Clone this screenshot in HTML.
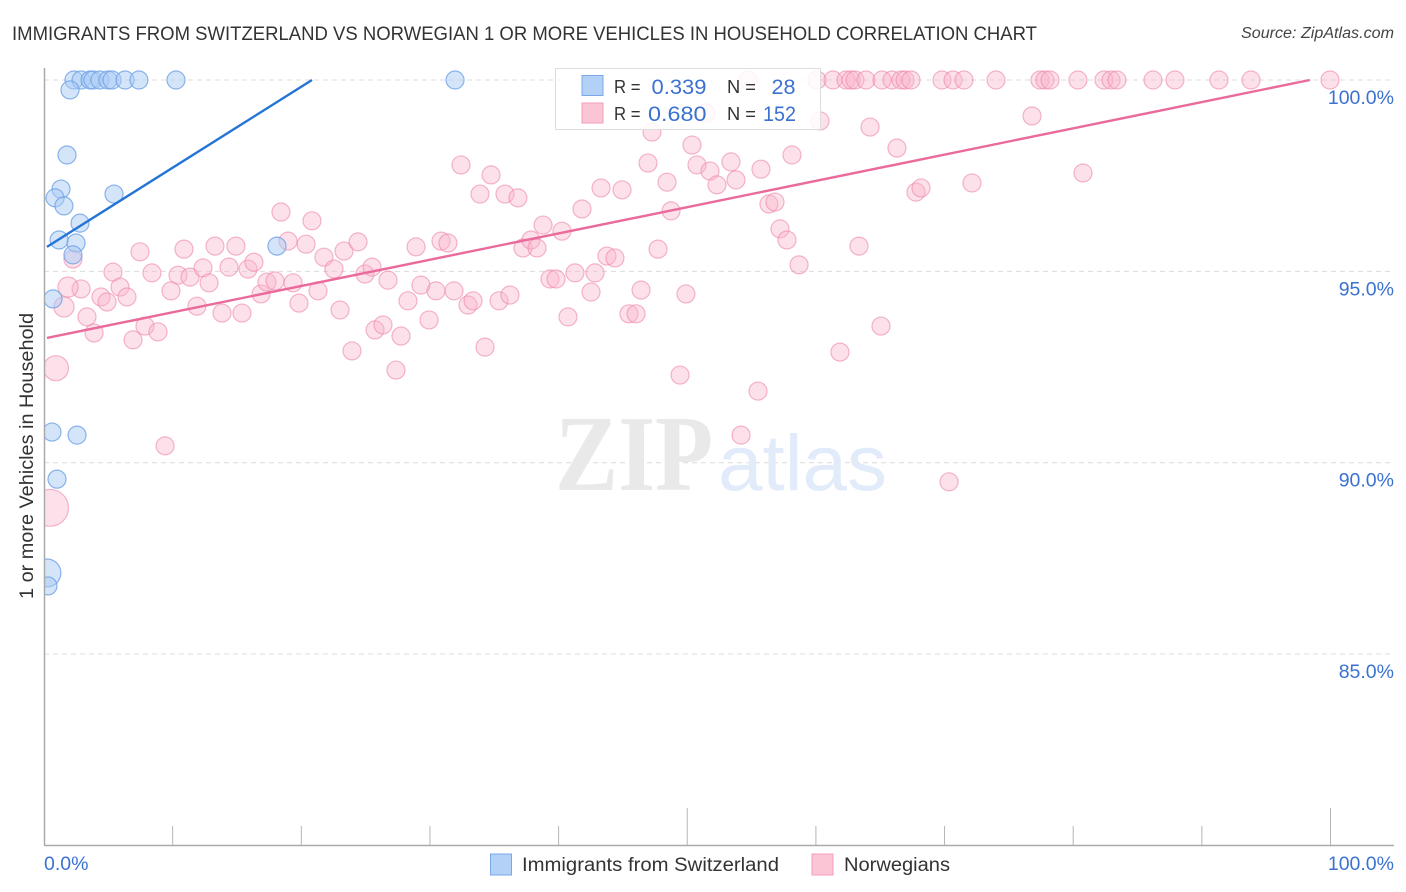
<!DOCTYPE html>
<html lang="en">
<head>
<meta charset="utf-8">
<title>Immigrants from Switzerland vs Norwegian 1 or more Vehicles in Household Correlation Chart</title>
<style>
html,body{margin:0;padding:0;background:#fff;}
svg{display:block;font-family:"Liberation Sans",sans-serif;}
</style>
</head>
<body>
<svg id="chart" xmlns="http://www.w3.org/2000/svg" width="1406" height="892" viewBox="0 0 1406 892">
  <rect x="0" y="0" width="1406" height="892" fill="#ffffff"/>
  <text x="12" y="40" font-size="19.5" fill="#333333" textLength="1025" lengthAdjust="spacingAndGlyphs">IMMIGRANTS FROM SWITZERLAND VS NORWEGIAN 1 OR MORE VEHICLES IN HOUSEHOLD CORRELATION CHART</text>
  <text x="1241" y="38" font-size="15.5" font-style="italic" fill="#444444" textLength="153" lengthAdjust="spacingAndGlyphs">Source: ZipAtlas.com</text>

  <g id="grid"></g>

  <g>
    <text x="555" y="490" font-family="'Liberation Serif',serif" font-weight="bold" font-size="108" fill="#e9e9e9" textLength="158" lengthAdjust="spacingAndGlyphs">ZIP</text>
    <text x="718" y="490" font-size="79" fill="#e1ebfa" textLength="169" lengthAdjust="spacingAndGlyphs">atlas</text>
  </g>

  <g id="points"></g>
  <rect x="0" y="60" width="44" height="790" fill="#ffffff"/>
  <g id="trends"></g>
  <g id="axes"></g>

  <text x="0" y="0" transform="translate(33,456) rotate(-90)" font-size="19" fill="#333333" text-anchor="middle" textLength="286" lengthAdjust="spacingAndGlyphs">1 or more Vehicles in Household</text>

  <g>
    <rect x="555.5" y="68.5" width="265" height="61" fill="#ffffff" fill-opacity="0.85" stroke="#dddddd" stroke-width="1"/>
    <rect x="582" y="75.5" width="21" height="20" fill="#b3d1f7" stroke="#7aa8e8" stroke-width="1"/>
    <rect x="582" y="103" width="21" height="20" fill="#fcc5d6" stroke="#f2a0ba" stroke-width="1"/>
    <text x="614" y="93" font-size="18.5" fill="#333333" textLength="26.5" lengthAdjust="spacingAndGlyphs">R =</text>
    <text x="651.5" y="94" font-size="21.5" fill="#3b71d1" textLength="55" lengthAdjust="spacingAndGlyphs">0.339</text>
    <text x="727" y="93" font-size="18.5" fill="#333333" textLength="29" lengthAdjust="spacingAndGlyphs">N =</text>
    <text x="771.5" y="94" font-size="21.5" fill="#3b71d1" textLength="24" lengthAdjust="spacingAndGlyphs">28</text>
    <text x="614" y="120" font-size="18.5" fill="#333333" textLength="26.5" lengthAdjust="spacingAndGlyphs">R =</text>
    <text x="648" y="121" font-size="21.5" fill="#3b71d1" textLength="58.5" lengthAdjust="spacingAndGlyphs">0.680</text>
    <text x="727" y="120" font-size="18.5" fill="#333333" textLength="29" lengthAdjust="spacingAndGlyphs">N =</text>
    <text x="763" y="121" font-size="21.5" fill="#3b71d1" textLength="33" lengthAdjust="spacingAndGlyphs">152</text>
  </g>

  <g>
    <rect x="490.5" y="854" width="21" height="21" fill="#b3d1f7" stroke="#7aa8e8" stroke-width="1"/>
    <text x="522" y="871" font-size="19" fill="#333333" textLength="257" lengthAdjust="spacingAndGlyphs">Immigrants from Switzerland</text>
    <rect x="812" y="854" width="21" height="21" fill="#fcc5d6" stroke="#f2a0ba" stroke-width="1"/>
    <text x="844" y="871" font-size="19" fill="#333333" textLength="106" lengthAdjust="spacingAndGlyphs">Norwegians</text>
  </g>
</svg>

<script>
// ---- Chart data (percent values) ----
const yTicks = [100, 95, 90, 85];
const yTickLabels = ["100.0%", "95.0%", "90.0%", "85.0%"];
const xTicks = [0, 10, 20, 30, 40, 50, 60, 70, 80, 90, 100];
const xMajorTicks = [50, 100];
const xTickLabels = ["0.0%", "100.0%"];
const xTickLabelValues = [0, 100];

const swissX = [2.33,2.88,3.58,3.81,4.35,4.97,5.29,6.30,7.38,10.26,31.95,2.02,1.79,1.32,0.86,1.55,5.44,2.80,1.17,2.49,2.25,18.11,0.70,0.62,2.57,1.01,0.23,0.31];
const swissY = [100,100,100,100,100,100,100,100,100,100,100,99.74,98.04,97.15,96.92,96.71,97.02,96.26,95.82,95.74,95.43,95.66,94.28,90.80,90.72,89.57,87.12,86.78];
const swissWeight = [1,1,1,1,1,1,1,1,1,1,1,1,1,1,1,1,1,1,1,1,1,1,1,1,1,1,2.4,1];

const norwegianX = [54.72,60.09,61.33,62.34,62.73,63.04,63.89,65.14,65.92,66.61,66.93,67.39,69.80,70.66,71.51,74.00,77.42,77.81,78.20,80.37,82.39,82.94,83.40,86.20,87.91,91.33,93.82,99.96,
2.25,5.36,7.46,8.39,10.42,10.88,11.35,12.36,13.29,14.38,14.92,15.86,16.32,2.88,3.34,3.89,4.43,4.90,5.91,6.45,6.92,7.85,8.86,9.87,11.89,12.83,13.84,15.39,16.87,17.33,17.96,18.42,18.97,19.36,19.82,20.37,20.83,21.30,21.76,22.54,23.01,23.32,23.94,24.41,24.95,25.50,25.73,26.35,26.74,27.36,27.75,28.29,28.92,29.30,29.93,30.47,30.86,31.40,31.87,32.41,32.96,33.35,33.89,34.28,34.75,35.37,35.83,36.22,36.84,37.23,37.85,38.32,38.79,39.33,39.80,40.26,40.73,41.27,41.82,42.52,42.83,43.30,43.76,44.38,44.93,45.47,46.02,46.41,46.95,47.26,47.73,48.43,48.74,49.44,49.90,50.37,50.76,51.46,51.77,52.31,53.40,53.79,54.18,55.50,55.73,56.35,56.82,57.21,57.75,58.14,58.69,60.32,61.87,63.35,64.21,65.06,66.30,67.78,68.17,70.35,72.13,76.80,80.76,9.41];
const norwegianY = [100,100,100,100,100,100,100,100,100,100,100,100,100,100,100,100,100,100,100,100,100,100,100,100,100,100,100,100,
95.32,94.98,95.51,94.96,94.90,95.58,94.85,95.09,95.66,95.11,95.66,95.06,95.24,94.54,93.81,93.39,94.33,94.20,94.59,94.33,93.21,93.57,93.42,94.49,94.09,94.70,93.91,93.91,94.41,94.72,94.75,96.55,95.79,94.70,94.17,95.71,96.32,94.49,95.37,95.06,93.99,95.53,92.92,95.77,94.93,95.11,93.47,93.60,94.77,92.42,93.31,94.23,95.64,94.64,93.73,94.49,95.79,95.74,94.49,97.78,94.12,94.23,97.02,93.02,97.52,94.23,97.02,94.38,96.92,95.61,95.82,95.61,96.21,94.80,94.80,96.05,93.81,94.96,96.63,94.46,94.96,97.18,95.40,95.35,97.13,93.89,93.89,94.51,97.83,98.64,95.58,97.33,96.58,92.29,94.41,98.30,97.78,99.14,97.62,97.26,97.86,97.39,90.72,91.87,97.67,96.76,96.81,96.11,95.82,98.04,95.17,98.93,92.89,95.66,98.77,93.57,98.22,97.07,97.18,89.50,97.31,99.06,97.57,90.44];
const norwegianLargeX = [1.55, 1.87, 0.93, 0.47];
const norwegianLargeY = [94.07, 94.59, 92.47, 88.82];
const norwegianLargeWeight = [1.25, 1.25, 1.93, 4.2];

const swissTrendX = [0.23, 20.83];
const swissTrendY = [95.64, 100];
const norwegianTrendX = [0.23, 98.4];
const norwegianTrendY = [93.26, 100];

// ---- Axis functions ----
function xScale(v) { return 44 + v * 12.865; }
function yScale(v) { return 80 + (100 - v) * 38.27; }
function radius(w) { return 9 * Math.sqrt(w); }

const NS = "http://www.w3.org/2000/svg";
const gridG = document.getElementById("grid");
const axesG = document.getElementById("axes");
const pointsG = document.getElementById("points");
const trendsG = document.getElementById("trends");

function make(tag, parent, attrs, text) {
  const el = document.createElementNS(NS, tag);
  for (const k in attrs) el.setAttribute(k, attrs[k]);
  if (text !== undefined) el.textContent = text;
  parent.appendChild(el);
  return el;
}

// gridlines and y tick labels
yTicks.forEach(function (t, i) {
  const line = make("line", gridG, {x1: 44, x2: 1394, y1: yScale(t), y2: yScale(t), stroke: "#dcdcdc", "stroke-width": 1, "stroke-dasharray": "5 4"});
  
  
  const label = make("text", axesG, {x: 1394, y: yScale(t) + 24, "font-size": 19.5, fill: "#3b71d1", "text-anchor": "end"}, yTickLabels[i]);
  
  
});

// axis lines
const yAxisLine = make("line", axesG, {x1: 44.5, x2: 44.5, y1: 68, y2: 845, stroke: "#aaaaaa", "stroke-width": 1.5});


const xAxisLine = make("line", axesG, {x1: 44, x2: 1394, y1: 845.5, y2: 845.5, stroke: "#aaaaaa", "stroke-width": 1.5});



// x ticks
xTicks.forEach(function (t) {
  if (t === 0) return;
  const top = xMajorTicks.indexOf(t) >= 0 ? 808 : 826;
  const tick = make("line", axesG, {x1: xScale(t), x2: xScale(t), y1: top, y2: 845, stroke: "#b5b5b5", "stroke-width": 1});
  
  
});
xTickLabelValues.forEach(function (t, i) {
  const isLast = t === 100;
  const label = make("text", axesG, {x: isLast ? 1394 : xScale(t), y: 870, "font-size": 19.5, fill: "#3b71d1", "text-anchor": isLast ? "end" : "start"}, xTickLabels[i]);
  
  
});

// points
function drawNorwegian(x, y, w) {
  const c = make("circle", pointsG, {cx: xScale(x), cy: yScale(y), r: radius(w), fill: "#f9b4ca", "fill-opacity": 0.4, stroke: "#ec86a8", "stroke-opacity": 0.6, "stroke-width": 1.2});
  
  
}
norwegianX.forEach(function (v, i) { drawNorwegian(v, norwegianY[i], 1); });
norwegianLargeX.forEach(function (v, i) { drawNorwegian(v, norwegianLargeY[i], norwegianLargeWeight[i]); });
swissX.forEach(function (v, i) {
  const c = make("circle", pointsG, {cx: xScale(v), cy: yScale(swissY[i]), r: radius(swissWeight[i]), fill: "#a9cbf5", "fill-opacity": 0.5, stroke: "#6ea1e6", "stroke-opacity": 0.8, "stroke-width": 1.2});
  
  
});

// trend lines
const swissTrend = make("line", trendsG, {x1: xScale(swissTrendX[0]), y1: yScale(swissTrendY[0]), x2: xScale(swissTrendX[1]), y2: yScale(swissTrendY[1]), stroke: "#2474d6", "stroke-width": 2.4});


const norwegianTrend = make("line", trendsG, {x1: xScale(norwegianTrendX[0]), y1: yScale(norwegianTrendY[0]), x2: xScale(norwegianTrendX[1]), y2: yScale(norwegianTrendY[1]), stroke: "#ea6a9b", "stroke-width": 2.4});


</script>
</body>
</html>
